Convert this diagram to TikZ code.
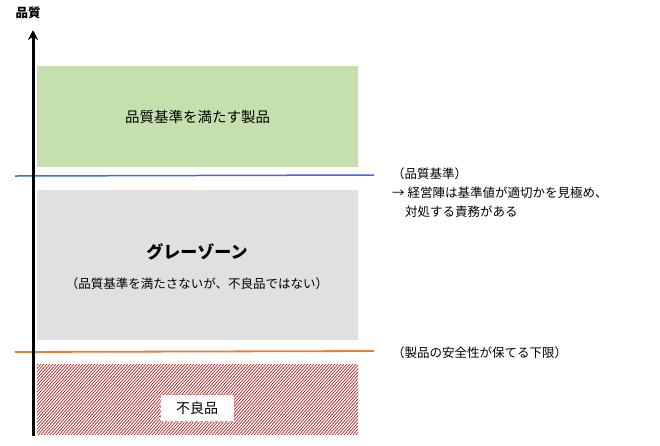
\documentclass[tikz,border=0pt]{standalone}
\usepackage{fontspec}
\setmainfont{Noto Sans CJK JP}
\usetikzlibrary{arrows.meta}
\definecolor{grn}{HTML}{C6DFAE}
\definecolor{gry}{HTML}{E0E0E0}
\definecolor{blu}{HTML}{4169E1}
\definecolor{org}{HTML}{ED7D31}
\definecolor{hred}{HTML}{B22222}
\tikzset{lbl/.style={font=\fontsize{12.5}{14}\selectfont,anchor=west,inner sep=0pt},
 band/.style={draw=none}}
\begin{document}
\begin{tikzpicture}[x=1pt,y=-1pt]
\useasboundingbox (0,0) rectangle (660,445);
\node[band,fill=grn,minimum width=321pt,minimum height=101pt] (good) at (197.5,116.5) {\fontsize{14.5}{16}\selectfont 品質基準を満たす製品};
\node[band,fill=gry,minimum width=321pt,minimum height=150pt] (gray) at (197.5,265) {};
\node[font=\fontsize{17}{19}\selectfont\bfseries] (gz) at (197,252) {グレーゾーン};
\node[font=\fontsize{12.5}{14}\selectfont] (gzs) at (197,284) {（品質基準を満たさないが、不良品ではない）};
\node[band,minimum width=321pt,minimum height=69pt] (bad) at (197.5,399.5) {};
\begin{scope}
\clip (bad.south west) rectangle (bad.north east);
\foreach \i in {0,3,...,420} {\draw[hred,line width=0.7pt] (37+\i-80,445) -- (37+\i,365-10);}
\end{scope}
\node[draw=hred!50,densely dashed,fill=white,font=\fontsize{14}{16}\selectfont,minimum width=74pt,minimum height=27pt] (badl) at (197,408) {不良品};
\coordinate (b1) at (15,176); \coordinate (b2) at (374,175);
\draw[blu,line width=1.5pt] (b1) -- (b2);
\coordinate (o1) at (15,352); \coordinate (o2) at (374,351);
\draw[org,line width=1.8pt] (o1) -- (o2);
\coordinate (a0) at (33,436); \coordinate (a1) at (33,30);
\draw[line width=3pt,-{Stealth[length=10pt,width=10pt]}] (a0) -- (a1);
\node[font=\fontsize{12.5}{14}\selectfont\bfseries] (yl) at (28,13) {品質};
\node[lbl] (t1) at (392,174) {（品質基準）};
\node[lbl] (t2) at (392,193) {→ 経営陣は基準値が適切かを見極め、};
\node[lbl] (t3) at (405,212) {対処する責務がある};
\node[lbl] (t4) at (392,353) {（製品の安全性が保てる下限）};
\end{tikzpicture}
\end{document}
